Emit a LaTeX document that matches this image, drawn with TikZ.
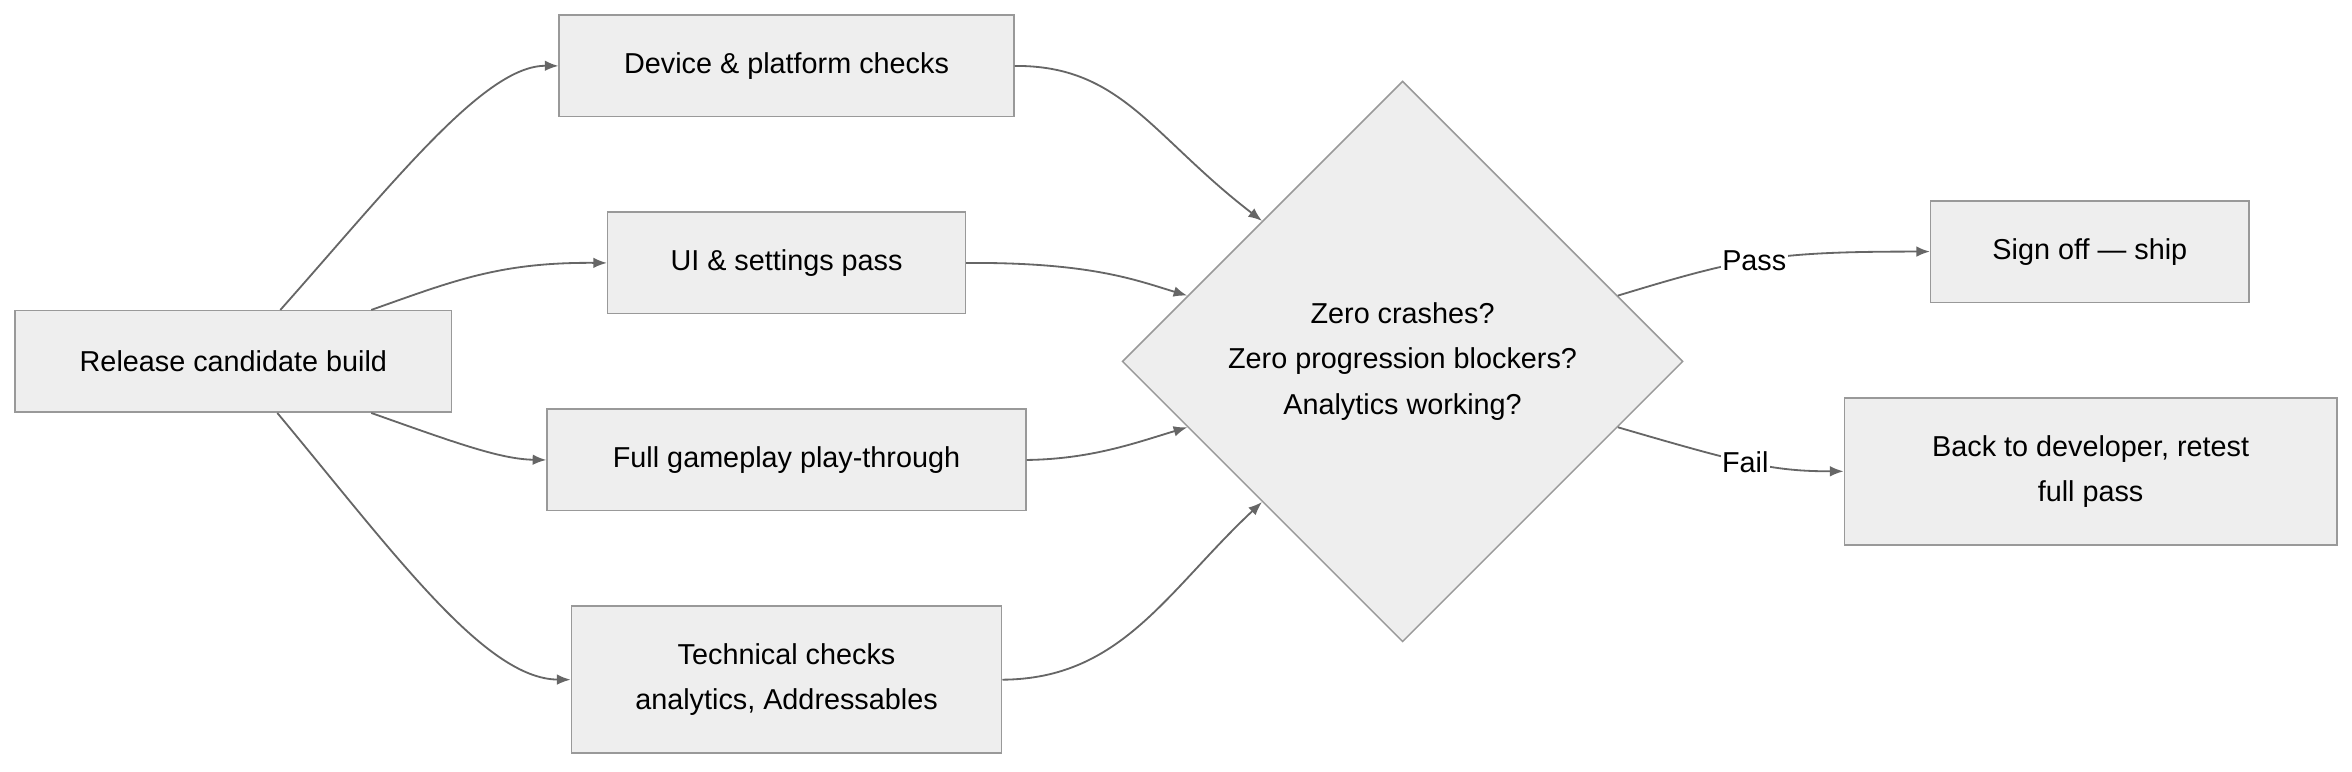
\documentclass[tikz,border=0pt]{standalone}
\usepackage{fontspec}
\setmainfont{Liberation Sans}
\usetikzlibrary{shapes.geometric,arrows.meta}
\definecolor{boxfill}{HTML}{EEEEEE}
\definecolor{boxline}{HTML}{999999}
\definecolor{edgecol}{HTML}{666666}
\begin{document}
\begin{tikzpicture}[x=1pt,y=-1pt,
  box/.style={draw=boxline,fill=boxfill,line width=1pt,font=\fontsize{19}{30}\selectfont,align=center,inner sep=0pt},
  dec/.style={diamond,draw=boxline,fill=boxfill,line width=1pt,font=\fontsize{19}{30}\selectfont,align=center,minimum width=370pt,minimum height=370pt,inner sep=0pt},
  edge/.style={draw=edgecol,line width=1.2pt,-{Latex[length=9pt,width=7pt]}},
  lbl/.style={fill=white,font=\fontsize{19}{24}\selectfont,inner sep=1pt}]
\useasboundingbox (0,0) rectangle (1552,509);
\node[box,minimum width=288pt,minimum height=67pt] (rc) at (154,238.5) {Release candidate build};
\node[box,minimum width=300pt,minimum height=67pt] (dev) at (519,43.5) {Device \& platform checks};
\node[box,minimum width=236pt,minimum height=67pt] (ui) at (519,173.5) {UI \& settings pass};
\node[box,minimum width=316pt,minimum height=67pt] (full) at (519,303.5) {Full gameplay play-through};
\node[box,minimum width=284pt,minimum height=97pt] (tech) at (519,448.5) {Technical checks\\analytics, Addressables};
\node[dec] (dia) at (925.5,238.5) {Zero crashes?\\Zero progression blockers?\\Analytics working?};
\node[box,minimum width=210pt,minimum height=67pt] (ship) at (1379,166) {Sign off — ship};
\node[box,minimum width=325pt,minimum height=97pt] (back) at (1379.5,311) {Back to developer, retest\\full pass};
\coordinate (rcA) at ([xshift=31pt]rc.north);
\coordinate (rcB) at ([xshift=91pt]rc.north);
\coordinate (rcC) at ([xshift=91pt]rc.south);
\coordinate (rcD) at ([xshift=29pt]rc.south);
\draw[edge] (rcA) .. controls (260,120) and (320,43) .. (dev.west);
\draw[edge] (rcB) .. controls (300,185) and (330,173) .. (ui.west);
\draw[edge] (rcC) .. controls (300,292) and (330,303) .. (full.west);
\draw[edge] (rcD) .. controls (260,365) and (320,448) .. (tech.west);
\draw[edge] (dev.east) .. controls (740,43) and (760,90) .. (dia.north west);
\draw[edge] (ui.east) .. controls (720,173) and (750,185) .. (dia.163);
\draw[edge] (full.east) .. controls (720,303) and (750,292) .. (dia.197);
\draw[edge] (tech.east) .. controls (740,448) and (770,390) .. (dia.south west);
\draw[edge] (dia.17) .. controls (1150,170) and (1170,166) .. node[lbl,pos=0.47]{Pass} (ship.west);
\draw[edge] (dia.343) .. controls (1150,306) and (1170,311) .. node[lbl,pos=0.47]{Fail} (back.west);
\end{tikzpicture}
\end{document}
